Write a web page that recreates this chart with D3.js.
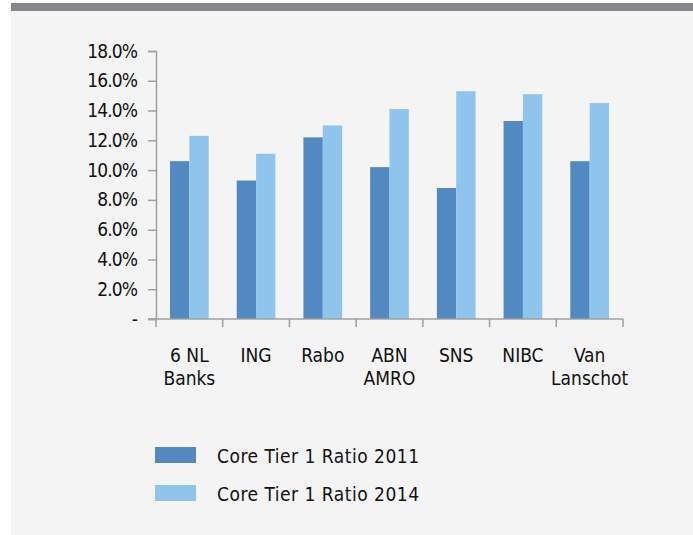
<!DOCTYPE html>
<html>
<head>
<meta charset="utf-8">
<script src="https://cdn.jsdelivr.net/npm/d3@7"></script>
<style>
  html, body { margin: 0; padding: 0; background: #ffffff; }
  svg { display: block; }
  text { font-family: "Liberation Sans Narrow", "DejaVu Sans Condensed", sans-serif; fill: #111111; }
</style>
</head>
<body>
<div id="chart"></div>
<script>
// Banks on the x axis, two lines where the label wraps
const banks = ["6 NL Banks", "ING", "Rabo", "ABN AMRO", "SNS", "NIBC", "Van Lanschot"];
const bankLines = [["6 NL", "Banks"], ["ING"], ["Rabo"], ["ABN", "AMRO"], ["SNS"], ["NIBC"], ["Van", "Lanschot"]];

// Core Tier 1 ratio in percent
const ratio2011 = [10.6, 9.3, 12.2, 10.2, 8.8, 13.3, 10.6];
const ratio2014 = [12.3, 11.1, 13.0, 14.1, 15.3, 15.1, 14.5];

const seriesNames = ["Core Tier 1 Ratio 2011", "Core Tier 1 Ratio 2014"];
const yTicks = [0, 2, 4, 6, 8, 10, 12, 14, 16, 18];

const colors = ["#5289c0", "#8fc5ec"];

const width = 693, height = 535;
const margin = { left: 156, right: 70, top: 51, bottom: 216 };
const innerW = width - margin.left - margin.right;
const innerH = height - margin.top - margin.bottom;

const svg = d3.select("#chart").append("svg")
  .attr("width", width)
  .attr("height", height);

// panel background and the grey band on top
svg.append("rect").attr("x", 11).attr("y", 3).attr("width", width - 11).attr("height", height - 3).attr("fill", "#f4f4f4");
svg.append("rect").attr("x", 11).attr("y", 3).attr("width", width - 11).attr("height", 8).attr("fill", "#85878c");

const plot = svg.append("g").attr("transform", `translate(${margin.left},${margin.top})`);

const x = d3.scaleBand().domain(banks).range([0, innerW]).paddingInner(0).paddingOuter(0);
const xSub = d3.scaleBand().domain([0, 1]).range([14, x.bandwidth() - 14]).padding(0);
const y = d3.scaleLinear().domain([0, 18]).range([innerH, 0]);

const rows = banks.map((b, i) => ({ bank: b, values: [ratio2011[i], ratio2014[i]] }));

// bars
const groups = plot.selectAll("g.group").data(rows).enter().append("g")
  .attr("class", "group")
  .attr("transform", (d) => `translate(${x(d.bank)},0)`);

groups.selectAll("rect").data((d) => d.values.map((v, k) => ({ v, k }))).enter().append("rect")
  .attr("x", (d) => xSub(d.k))
  .attr("width", xSub.bandwidth())
  .attr("y", (d) => y(d.v))
  .attr("height", (d) => innerH - y(d.v))
  .attr("fill", (d) => colors[d.k]);

// y axis
const yAxis = d3.axisLeft(y).tickValues(yTicks).tickSize(8).tickPadding(11)
  .tickFormat((d) => (d === 0 ? "-" : d3.format(".1f")(d) + "%"));
const yG = plot.append("g").call(yAxis);
yG.select(".domain").attr("stroke", "#a0a0a0").attr("stroke-width", 1.5);
yG.selectAll(".tick line").attr("stroke", "#a0a0a0").attr("stroke-width", 1.5);
yG.selectAll(".tick text").attr("font-size", 19).attr("fill", "#111111")
  .attr("letter-spacing", "-0.9px")
  .attr("font-family", "'Liberation Sans Narrow', 'DejaVu Sans Condensed', sans-serif");

// x axis with ticks between categories
const xG = plot.append("g").attr("transform", `translate(0,${innerH})`);
xG.append("line").attr("x1", -8).attr("x2", innerW).attr("stroke", "#a0a0a0").attr("stroke-width", 1.5);
xG.selectAll("line.sep").data(banks.concat(["end"])).enter().append("line")
  .attr("class", "sep")
  .attr("x1", (d, i) => (i < banks.length ? x(d) : innerW))
  .attr("x2", (d, i) => (i < banks.length ? x(d) : innerW))
  .attr("y1", 0).attr("y2", 8)
  .attr("stroke", "#a0a0a0").attr("stroke-width", 1.5);

const labels = xG.selectAll("text.cat").data(bankLines).enter().append("text")
  .attr("class", "cat")
  .attr("text-anchor", "middle")
  .attr("font-size", 19)
  .attr("transform", (d, i) => `translate(${x(banks[i]) + x.bandwidth() / 2},43)`);
labels.selectAll("tspan").data((d) => d).enter().append("tspan")
  .attr("x", 0)
  .attr("dy", (d, j) => (j === 0 ? 0 : 23))
  .text((d) => d);

// legend
const legend = svg.append("g").attr("transform", "translate(155,447)");
const item = legend.selectAll("g").data(seriesNames).enter().append("g")
  .attr("transform", (d, i) => `translate(0,${i * 38})`);
item.append("rect").attr("width", 41).attr("height", 16).attr("fill", (d, i) => colors[i]);
item.append("text").attr("x", 62).attr("y", 16).attr("font-size", 19)
  .attr("letter-spacing", "0.5px").text((d) => d);
</script>
</body>
</html>
